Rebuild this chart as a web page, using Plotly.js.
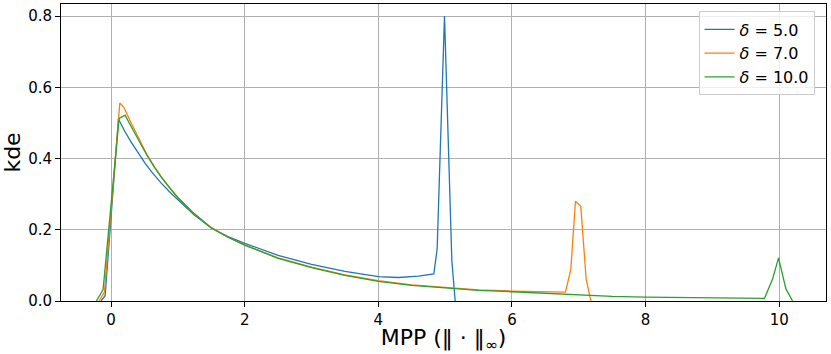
<!DOCTYPE html>
<html>
<head>
<meta charset="utf-8">
<script src="https://cdn.plot.ly/plotly-3.0.1.min.js"></script>
<style>
  body { margin: 0; }
  #myDiv { width: 831px; height: 354px; }
</style>
</head>
<body>
<div id="myDiv"></div>
<script>
// delta = 5.0
var x5 = [-0.15, -0.09, 0.11, 0.2, 0.3, 0.4, 0.5, 0.6, 0.75, 0.9, 1.0, 1.25, 1.5, 1.75, 2.0, 2.5, 3.0, 3.5, 4.0, 4.3, 4.6, 4.83, 4.88, 4.99, 5.1, 5.15];
var y5 = [0, 0.015, 0.511, 0.478, 0.446, 0.416, 0.389, 0.364, 0.331, 0.302, 0.284, 0.241, 0.205, 0.181, 0.162, 0.128, 0.103, 0.083, 0.0685, 0.066, 0.07, 0.076, 0.146, 0.80, 0.113, 0];

// delta = 7.0
var x7 = [-0.18, -0.1, 0.13, 0.19, 0.3, 0.4, 0.54, 0.65, 0.75, 0.9, 1.0, 1.25, 1.5, 1.75, 2.0, 2.5, 3.0, 3.5, 4.0, 4.5, 5.0, 5.5, 6.0, 6.5, 6.8, 6.88, 6.95, 7.03, 7.11, 7.18];
var y7 = [0, 0.025, 0.556, 0.544, 0.50, 0.462, 0.41, 0.376, 0.349, 0.313, 0.291, 0.244, 0.206, 0.179, 0.157, 0.121, 0.095, 0.073, 0.057, 0.045, 0.037, 0.031, 0.028, 0.026, 0.025, 0.088, 0.28, 0.266, 0.062, 0];

// delta = 10.0
var x10 = [-0.22, -0.12, 0.12, 0.21, 0.3, 0.4, 0.54, 0.65, 0.75, 0.9, 1.0, 1.25, 1.5, 1.75, 2.0, 2.5, 3.0, 3.5, 4.0, 4.5, 5.0, 5.5, 6.0, 6.5, 7.0, 7.5, 8.0, 8.5, 9.0, 9.5, 9.78, 9.9, 9.99, 10.1, 10.2];
var y10 = [0, 0.032, 0.513, 0.522, 0.49, 0.455, 0.408, 0.375, 0.348, 0.312, 0.29, 0.244, 0.205, 0.179, 0.157, 0.12, 0.094, 0.072, 0.055, 0.044, 0.036, 0.03, 0.026, 0.021, 0.016, 0.013, 0.011, 0.0095, 0.0085, 0.008, 0.0075, 0.062, 0.121, 0.034, 0];

var names = ['<i>δ</i> = 5.0', '<i>δ</i> = 7.0', '<i>δ</i> = 10.0'];
var colors = ['#1f77b4', '#ff7f0e', '#2ca02c'];
var xs = [x5, x7, x10];
var ys = [y5, y7, y10];

var data = [];
for (var i = 0; i < 3; i++) {
  data.push({
    x: xs[i],
    y: ys[i],
    type: 'scatter',
    mode: 'lines',
    name: names[i],
    line: {color: colors[i], width: 1.3}
  });
}

var layout = {
  width: 831,
  height: 354,
  margin: {l: 61, r: 5, t: 4, b: 53},
  paper_bgcolor: 'white',
  plot_bgcolor: 'white',
  font: {family: 'DejaVu Sans', size: 15, color: 'black'},
  showlegend: true,
  legend: {
    x: 0.985, y: 0.975, xanchor: 'right', yanchor: 'top',
    bgcolor: 'rgba(255,255,255,0.8)',
    bordercolor: '#cccccc', borderwidth: 1,
    font: {size: 16}
  },
  xaxis: {
    range: [-0.75, 10.7],
    tickvals: [0, 2, 4, 6, 8, 10],
    ticktext: ['0', '2', '4', '6', '8', '10'],
    showgrid: true, gridcolor: '#b0b0b0', gridwidth: 0.8,
    zeroline: false,
    showline: true, linecolor: 'black', linewidth: 1, mirror: true,
    ticks: 'outside', ticklen: 5, tickcolor: 'black',
    title: {text: 'MPP (‖ · ‖<sub>∞</sub>)', font: {size: 22}, standoff: 8}
  },
  yaxis: {
    range: [0, 0.834],
    tickvals: [0, 0.2, 0.4, 0.6, 0.8],
    ticktext: ['0.0', '0.2', '0.4', '0.6', '0.8'],
    showgrid: true, gridcolor: '#b0b0b0', gridwidth: 0.8,
    zeroline: false,
    showline: true, linecolor: 'black', linewidth: 1, mirror: true,
    ticks: 'outside', ticklen: 5, tickcolor: 'black',
    title: {text: 'kde', font: {size: 22}, standoff: 3}
  }
};

Plotly.newPlot('myDiv', data, layout, {displayModeBar: false});
</script>
</body>
</html>
